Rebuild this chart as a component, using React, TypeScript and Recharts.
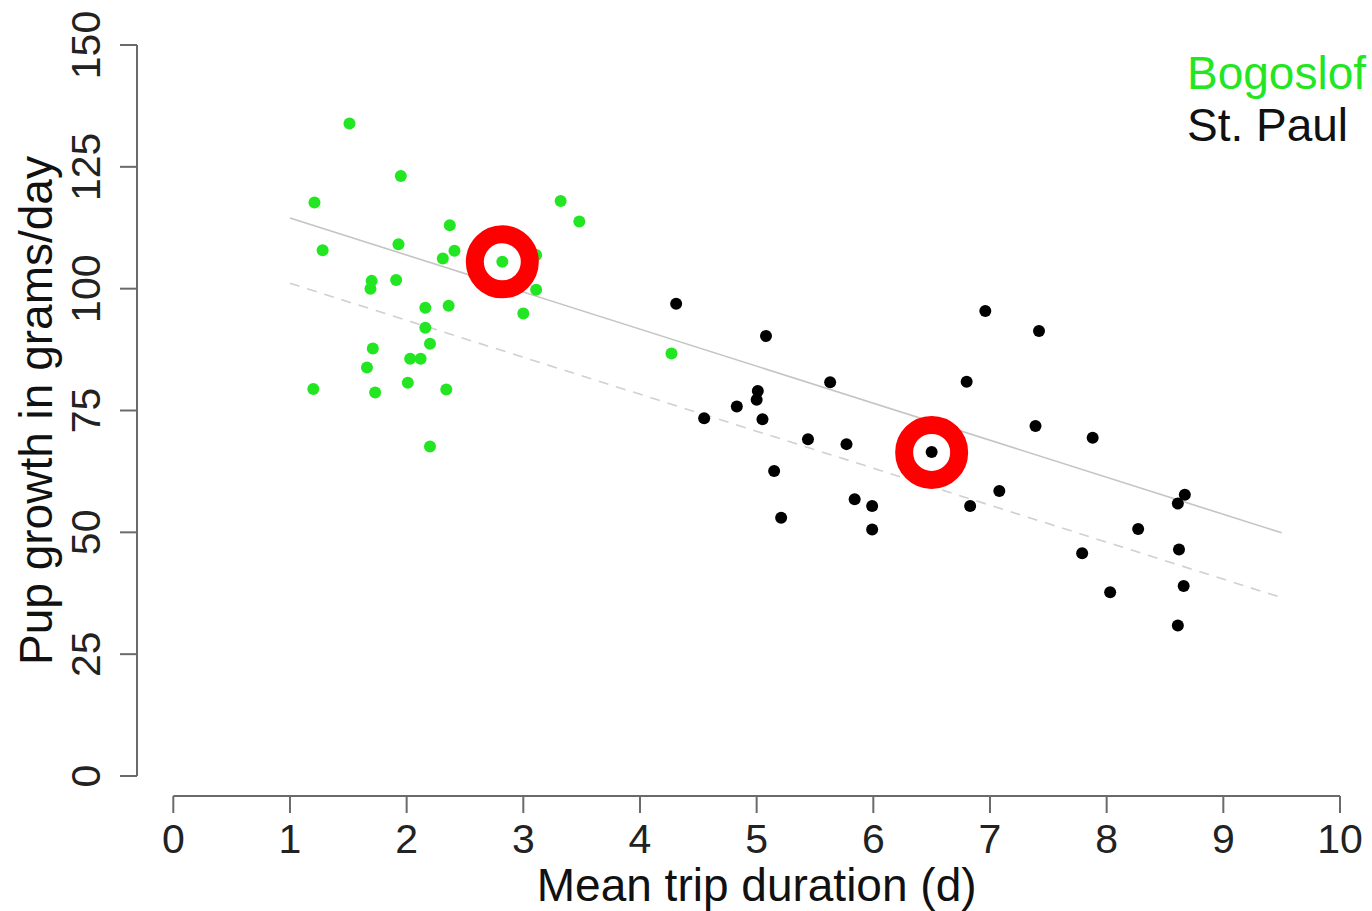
import React from 'react';
import { ScatterChart, Scatter, XAxis, YAxis, ReferenceLine, Label } from 'recharts';

// ---- data ----
const seriesNames = ['Bogoslof', 'St. Paul'];
const xTitle = 'Mean trip duration (d)';
const yTitle = 'Pup growth in grams/day';

const bogoslofX = [1.51, 1.95, 1.21, 3.32, 3.48, 2.37, 1.28, 1.93, 2.41, 2.31, 2.82, 3.11, 3.11, 3.0, 1.7, 1.69, 1.91, 2.16, 2.36, 2.16, 2.2, 1.71, 2.03, 2.12, 1.66, 2.01, 1.2, 1.73, 2.34, 2.2, 4.27];
const bogoslofY = [133.9, 123.1, 117.7, 118.0, 113.8, 113.0, 107.9, 109.1, 107.8, 106.2, 105.5, 106.9, 99.8, 94.9, 101.6, 100.0, 101.8, 96.1, 96.5, 92.0, 88.7, 87.7, 85.6, 85.6, 83.8, 80.7, 79.4, 78.7, 79.3, 67.6, 86.7];

const stPaulX = [4.31, 5.08, 6.96, 7.42, 5.63, 6.8, 5.01, 5.0, 4.83, 4.55, 5.05, 7.39, 7.88, 5.44, 5.77, 6.5, 5.15, 7.08, 8.67, 8.61, 5.84, 5.99, 6.83, 5.21, 5.99, 8.27, 8.62, 7.79, 8.66, 8.03, 8.61];
const stPaulY = [96.9, 90.3, 95.4, 91.3, 80.8, 80.9, 79.0, 77.2, 75.8, 73.4, 73.2, 71.8, 69.4, 69.1, 68.1, 66.5, 62.6, 58.5, 57.7, 55.9, 56.8, 55.4, 55.4, 53.0, 50.6, 50.7, 46.5, 45.7, 39.0, 37.7, 30.9];

const highlightX = [2.82, 6.5];
const highlightY = [105.5, 66.4];

const fitSolidX = [1.0, 9.5];
const fitSolidY = [114.5, 49.9];
const fitDashedX = [1.0, 9.5];
const fitDashedY = [101.1, 36.6];

const xTicks = [0, 1, 2, 3, 4, 5, 6, 7, 8, 9, 10];
const yTicks = [0, 25, 50, 75, 100, 125, 150];

// ---- layout / style ----
const W = 1372;
const H = 911;
const PLOT_LEFT = 137;
const PLOT_RIGHT = 1360;
const PLOT_TOP = 20;
const PLOT_BOTTOM = 796;
const X0PX = 173.3;
const XPU = 116.67;
const Y0PX = 776;
const YPU = (776 - 45) / 150;
const xDomain = [(PLOT_LEFT - X0PX) / XPU, (PLOT_RIGHT - X0PX) / XPU];
const yDomain = [(Y0PX - PLOT_BOTTOM) / YPU, (Y0PX - PLOT_TOP) / YPU];

const FONT = '"Liberation Sans", Arial, Helvetica, sans-serif';
const GREEN = '#22e622';
const BLACK = '#000000';
const AXIS = '#6a6a6a';
const colors = [GREEN, '#111111'];

const zip = (xs: number[], ys: number[]) => xs.map((x, i) => ({ x, y: ys[i] }));
const bogoslof = zip(bogoslofX, bogoslofY);
const stPaul = zip(stPaulX, stPaulY);
const highlights = zip(highlightX, highlightY);
const fitSolid = zip(fitSolidX, fitSolidY);
const fitDashed = zip(fitDashedX, fitDashedY);

const XTick = (props: any) => {
  const { x, payload } = props;
  return (
    <text x={x} y={PLOT_BOTTOM + 57} textAnchor="middle" fontSize={41} fill="#222" fontFamily={FONT}>
      {payload.value}
    </text>
  );
};

const YTick = (props: any) => {
  const { y, payload } = props;
  const bx = 100;
  return (
    <text x={bx} y={y} transform={`rotate(-90, ${bx}, ${y})`} textAnchor="middle" fontSize={41} fill="#222" fontFamily={FONT}>
      {payload.value}
    </text>
  );
};

const dot = (color: string) => (p: any) => <circle cx={p.cx} cy={p.cy} r={6} fill={color} />;
const ring = (p: any) => <circle cx={p.cx} cy={p.cy} r={27.5} fill="none" stroke="#ff0000" strokeWidth={18} />;
const none = () => <g />;

export default function App() {
  return (
    <div style={{ position: 'absolute', left: 0, top: 0, width: W, height: H, background: '#fff' }}>
      <ScatterChart width={W} height={H} margin={{ top: PLOT_TOP, right: W - PLOT_RIGHT, bottom: 0, left: 0 }}>
        <XAxis
          type="number"
          dataKey="x"
          domain={xDomain}
          allowDataOverflow
          ticks={xTicks}
          interval={0}
          height={H - PLOT_BOTTOM}
          axisLine={false}
          tickSize={17}
          tickLine={{ stroke: AXIS, strokeWidth: 2 }}
          tick={<XTick />}
        >
          <Label
            content={() => (
              <text x={X0PX + 5 * XPU} y={901} textAnchor="middle" fontSize={46} fill="#111" fontFamily={FONT}>
                {xTitle}
              </text>
            )}
          />
        </XAxis>
        <YAxis
          type="number"
          dataKey="y"
          domain={yDomain}
          allowDataOverflow
          ticks={yTicks}
          interval={0}
          width={PLOT_LEFT}
          axisLine={false}
          tickSize={17}
          tickLine={{ stroke: AXIS, strokeWidth: 2 }}
          tick={<YTick />}
        >
          <Label
            content={() => {
              const cx = 51.5;
              const cy = Y0PX - 75 * YPU;
              return (
                <text x={cx} y={cy} transform={`rotate(-90, ${cx}, ${cy})`} textAnchor="middle" fontSize={46} fill="#111" fontFamily={FONT}>
                  {yTitle}
                </text>
              );
            }}
          />
        </YAxis>
        <ReferenceLine
          segment={[{ x: 0, y: yDomain[0] }, { x: 10, y: yDomain[0] }]}
          stroke={AXIS}
          strokeWidth={2}
          ifOverflow="visible"
        />
        <ReferenceLine
          segment={[{ x: xDomain[0], y: 0 }, { x: xDomain[0], y: 150 }]}
          stroke={AXIS}
          strokeWidth={2}
          ifOverflow="visible"
        />
        <Scatter data={fitSolid} line={{ stroke: '#c4c4c4', strokeWidth: 1.6 }} shape={none} isAnimationActive={false} />
        <Scatter data={fitDashed} line={{ stroke: '#cfd0d6', strokeWidth: 1.6, strokeDasharray: '10 8' }} shape={none} isAnimationActive={false} />
        <Scatter name={seriesNames[0]} data={bogoslof} shape={dot(GREEN)} isAnimationActive={false} />
        <Scatter name={seriesNames[1]} data={stPaul} shape={dot(BLACK)} isAnimationActive={false} />
        <Scatter data={highlights} shape={ring} isAnimationActive={false} />
      </ScatterChart>
      <div style={{ position: 'absolute', left: 1187, top: 47, fontFamily: FONT, fontSize: 46, lineHeight: '52.4px' }}>
        {seriesNames.map((n, i) => (
          <div key={n} style={{ color: colors[i], whiteSpace: 'nowrap' }}>{n}</div>
        ))}
      </div>
    </div>
  );
}
